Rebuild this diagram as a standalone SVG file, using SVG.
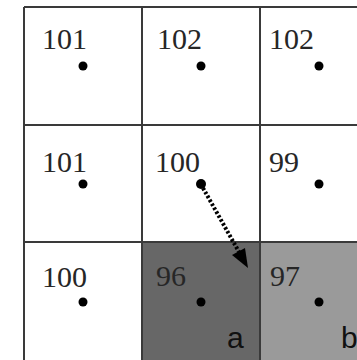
<svg xmlns="http://www.w3.org/2000/svg" width="357" height="360" viewBox="0 0 357 360">
<defs>
<style>
.num{font-family:"Liberation Serif","Times New Roman",serif;font-size:30px;fill:#262626}
.lab{font-family:"Liberation Sans",Arial,sans-serif;font-size:30px;fill:#111}
.dot{fill:#000}
.grid{fill:none;stroke:#3a3a3a;stroke-width:2}
</style>
</defs>
<rect x="0" y="0" width="357" height="360" fill="#fff"/>
<g id="cell-a"><rect x="142" y="242" width="118" height="118" fill="#676767"/></g>
<g id="cell-b"><rect x="260" y="242" width="118" height="118" fill="#9a9a9a"/></g>
<g id="grid">
<path class="grid" d="M24,7 H378 M24,125 H378 M24,242 H378 M24,7 V360 M142,7 V360 M260,7 V360"/>
</g>
<g id="r1c1"><text class="num" x="42" y="49">101</text><circle class="dot" cx="83" cy="66" r="4.5"/></g>
<g id="r1c2"><text class="num" x="157" y="49">102</text><circle class="dot" cx="201" cy="66" r="4.5"/></g>
<g id="r1c3"><text class="num" x="269" y="49">102</text><circle class="dot" cx="319" cy="66" r="4.5"/></g>
<g id="r2c1"><text class="num" x="42" y="172">101</text><circle class="dot" cx="83" cy="184" r="4.5"/></g>
<g id="r2c2"><text class="num" x="155" y="172">100</text><circle class="dot" cx="201" cy="184" r="5"/></g>
<g id="r2c3"><text class="num" x="269" y="172">99</text><circle class="dot" cx="319" cy="184" r="4.5"/></g>
<g id="r3c1"><text class="num" x="42" y="287">100</text><circle class="dot" cx="83" cy="302" r="4.5"/></g>
<g id="r3c2"><text class="num" x="156" y="286">96</text><circle class="dot" cx="201" cy="302" r="4.5"/><text class="lab" x="227" y="348">a</text></g>
<g id="r3c3"><text class="num" x="270" y="286">97</text><circle class="dot" cx="319" cy="302" r="4.5"/><text class="lab" x="341" y="348">b</text></g>
<g id="connectors">
<line x1="203" y1="188" x2="239" y2="252" stroke="#000" stroke-width="4" stroke-dasharray="2.5 2"/>
<polygon points="248,268 232,255 245,248" fill="#000"/>
</g>
</svg>
